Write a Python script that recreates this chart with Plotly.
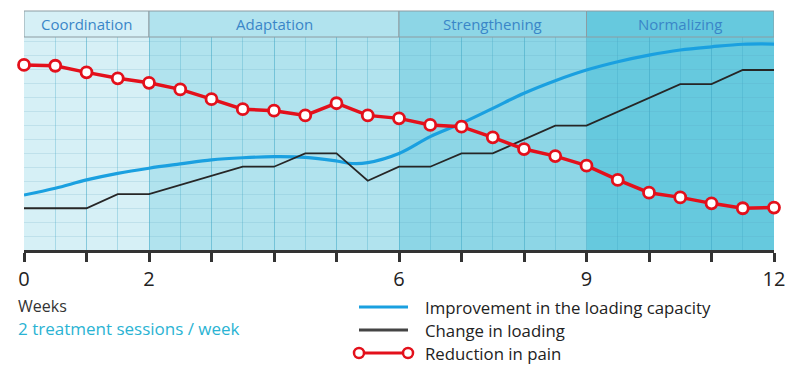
import plotly.graph_objects as go

# ---- data ----
weeks = [0, 0.5, 1, 1.5, 2, 2.5, 3, 3.5, 4, 4.5, 5, 5.5, 6, 6.5, 7, 7.5, 8, 8.5, 9,
         9.5, 10, 10.5, 11, 11.5, 12]
pain = [86.9, 86.5, 83.4, 80.6, 78.5, 75.4, 70.8, 66.1, 65.4, 63.2, 68.9, 63.2, 61.8,
        58.7, 57.9, 52.9, 47.4, 44.1, 39.6, 32.9, 26.9, 24.7, 21.9, 19.6, 19.9]
capacity_weeks = [0, 0.5, 1, 1.5, 2, 2.5, 3, 3.5, 4, 4.5, 5, 5.25, 5.5, 6, 6.5, 7, 7.5,
                  8, 8.5, 9, 9.5, 10, 10.5, 11, 11.5, 12]
capacity = [25.8, 29.0, 32.9, 36.0, 38.4, 40.4, 42.3, 43.3, 43.8, 43.5, 41.8, 40.6, 41.0,
            45.3, 53.2, 59.5, 66.5, 73.6, 79.5, 84.5, 88.4, 91.5, 93.9, 95.4, 96.6, 96.7]
loading_weeks = [0, 1, 1.5, 2, 3.5, 4, 4.5, 5, 5.5, 6, 6.5, 7, 7.5, 8.5, 9, 10.5, 11, 11.5, 12]
loading = [19.6, 19.6, 26.2, 26.2, 39.1, 39.1, 45.4, 45.4, 32.5, 39.1, 39.1, 45.4, 45.4,
           58.4, 58.4, 77.9, 77.9, 84.5, 84.5]

phases = ["Coordination", "Adaptation", "Strengthening", "Normalizing"]
phase_start = [0, 2, 6, 9]
phase_end = [2, 6, 9, 12]
phase_colors = ["#d6f0f6", "#b1e3ee", "#8dd6e6", "#66c9de"]

tick_vals = [0, 1, 2, 3, 4, 5, 6, 7, 8, 9, 10, 11, 12]
tick_text = ["0", "", "2", "", "", "", "6", "", "", "9", "", "", "12"]

series_names = ["Improvement in the loading capacity", "Change in loading", "Reduction in pain"]

BLUE = "#1aa0e0"
BLACK = "#262626"
RED = "#e3101b"
FONT = "Open Sans"

W, H = 795, 377
ML, MR, MT, MB = 24, 21, 37, 127
PW = W - ML - MR
PH = H - MT - MB

fig = go.Figure()

fig.add_trace(go.Scatter(x=capacity_weeks, y=capacity, mode="lines", name=series_names[0],
                         line=dict(color=BLUE, width=3.2, shape="spline", smoothing=1.0),
                         showlegend=False, hoverinfo="skip"))
fig.add_trace(go.Scatter(x=loading_weeks, y=loading, mode="lines", name=series_names[1],
                         line=dict(color=BLACK, width=1.8), showlegend=False, hoverinfo="skip"))
fig.add_trace(go.Scatter(x=weeks, y=pain, mode="lines+markers", name=series_names[2],
                         line=dict(color=RED, width=3.5),
                         marker=dict(size=11, color="white", line=dict(color=RED, width=2.8)),
                         cliponaxis=False, showlegend=False, hoverinfo="skip"))

shapes = []
annotations = []

# phase backgrounds and header boxes
hdr_y0 = 1.0
hdr_y1 = 1.0 + 26 / PH
for name, s, e, c in zip(phases, phase_start, phase_end, phase_colors):
    shapes.append(dict(type="rect", xref="x", yref="paper", x0=s, x1=e, y0=0, y1=1,
                       fillcolor=c, line=dict(width=0), layer="below"))
    shapes.append(dict(type="rect", xref="x", yref="paper", x0=s, x1=e, y0=hdr_y0, y1=hdr_y1,
                       fillcolor=c, line=dict(color="#8c9ca2", width=1), layer="above"))
    annotations.append(dict(x=(s + e) / 2, y=(hdr_y0 + hdr_y1) / 2, xref="x", yref="paper",
                            text=name, showarrow=False,
                            font=dict(family=FONT, size=15, color="#3a86c8"),
                            xanchor="center", yanchor="middle"))


def px_x(px):
    return (px - ML) / PW


def px_y(py):
    return (H - MB - py) / PH


# left captions
annotations.append(dict(x=px_x(16), y=px_y(306), xref="paper", yref="paper", text="Weeks",
                        showarrow=False, xanchor="left", yanchor="middle",
                        font=dict(family=FONT, size=16, color="#333333")))
annotations.append(dict(x=px_x(16), y=px_y(328.5), xref="paper", yref="paper",
                        text="2 treatment sessions / week", showarrow=False,
                        xanchor="left", yanchor="middle",
                        font=dict(family=FONT, size=17, color="#2ab3d3")))

# manual legend
leg_rows = [307, 330, 353]
leg_colors = [BLUE, "#444444", RED]
leg_widths = [3, 3, 3]
for name, row, col, lw in zip(series_names, leg_rows, leg_colors, leg_widths):
    shapes.append(dict(type="line", xref="paper", yref="paper", x0=px_x(359), x1=px_x(408),
                       y0=px_y(row), y1=px_y(row), line=dict(color=col, width=lw)))
    annotations.append(dict(x=px_x(423), y=px_y(row), xref="paper", yref="paper", text=name,
                            showarrow=False, xanchor="left", yanchor="middle",
                            font=dict(family=FONT, size=16.8, color="#222222")))
for cx in (359, 408):
    r = 5
    shapes.append(dict(type="circle", xref="paper", yref="paper",
                       x0=px_x(cx - r), x1=px_x(cx + r), y0=px_y(353 + r), y1=px_y(353 - r),
                       fillcolor="white", line=dict(color=RED, width=2.5)))

fig.update_layout(
    width=W, height=H,
    margin=dict(l=ML, r=MR, t=MT, b=MB, autoexpand=False),
    paper_bgcolor="white", plot_bgcolor="white",
    shapes=shapes, annotations=annotations,
    xaxis=dict(range=[0, 12], tickvals=tick_vals, ticktext=tick_text, automargin=False,
               showgrid=True, gridcolor="rgba(60,165,195,0.3)", gridwidth=1,
               minor=dict(dtick=0.5, tick0=0, showgrid=True,
                          gridcolor="rgba(60,165,195,0.3)", gridwidth=1),
               showline=True, linecolor="#333333", linewidth=3,
               ticks="outside", ticklen=9, tickwidth=3, tickcolor="#333333",
               tickfont=dict(family=FONT, size=20, color="#222222"),
               zeroline=False, fixedrange=True),
    yaxis=dict(range=[0, 100], tick0=6.24, dtick=6.53, showticklabels=False, automargin=False,
               showgrid=True, gridcolor="rgba(90,160,190,0.18)", gridwidth=1,
               zeroline=False, showline=False, ticks="", fixedrange=True),
    showlegend=False,
)

fig.write_html("out.html", config={"displayModeBar": False},
               post_script="document.body.style.margin='0';document.body.style.overflow='hidden';")
